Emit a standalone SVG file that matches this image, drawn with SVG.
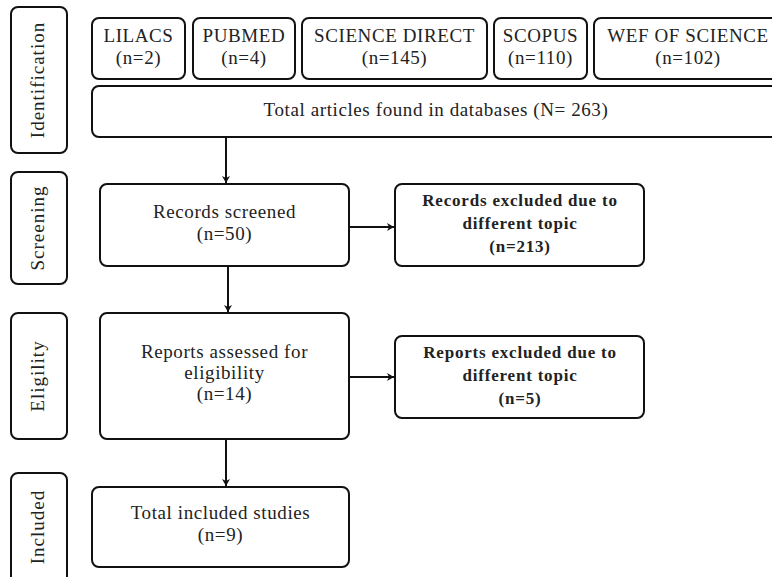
<svg xmlns="http://www.w3.org/2000/svg" width="772" height="577" viewBox="0 0 772 577">
<defs>
<style>
.box{fill:#fff;stroke:#111;stroke-width:2}
.t{font-family:"Liberation Serif","Times New Roman",serif;font-size:19px;fill:#222;text-anchor:middle;letter-spacing:0.6px}
.b{font-weight:bold;font-size:17px;letter-spacing:0.8px}
.v{font-size:19px;letter-spacing:1px}
.c{fill:none;stroke:#111;stroke-width:2}
</style>
<marker id="ah" markerWidth="10" markerHeight="10" refX="7" refY="5" orient="auto" markerUnits="userSpaceOnUse">
<path d="M0,1 L7,5 L0,9 L2,5 Z" fill="#111"/>
</marker>
</defs>
<rect width="772" height="577" fill="#fff"/>

<g id="stage-identification">
<rect class="box" x="11" y="7" width="56" height="146" rx="7"/>
<text class="t v" transform="translate(44,80) rotate(-90)">Identification</text>
</g>
<g id="stage-screening">
<rect class="box" x="11" y="172" width="56" height="112" rx="7"/>
<text class="t v" transform="translate(44,228) rotate(-90)">Screening</text>
</g>
<g id="stage-eligibility">
<rect class="box" x="11" y="313" width="56" height="126" rx="7"/>
<text class="t v" transform="translate(44,376) rotate(-90)">Eligility</text>
</g>
<g id="stage-included">
<rect class="box" x="11" y="473" width="56" height="112" rx="7"/>
<text class="t v" transform="translate(44,527) rotate(-90)">Included</text>
</g>

<g id="lilacs">
<rect class="box" x="92" y="18" width="93" height="61" rx="7"/>
<text class="t" x="138.5" y="42">LILACS</text>
<text class="t" x="138.5" y="64">(n=2)</text>
</g>
<g id="pubmed">
<rect class="box" x="193" y="18" width="102" height="61" rx="7"/>
<text class="t" x="244" y="42">PUBMED</text>
<text class="t" x="244" y="64">(n=4)</text>
</g>
<g id="science-direct">
<rect class="box" x="302" y="18" width="185" height="61" rx="7"/>
<text class="t" x="394.5" y="42">SCIENCE DIRECT</text>
<text class="t" x="394.5" y="64">(n=145)</text>
</g>
<g id="scopus">
<rect class="box" x="494" y="18" width="93" height="61" rx="7"/>
<text class="t" x="540.5" y="42">SCOPUS</text>
<text class="t" x="540.5" y="64">(n=110)</text>
</g>
<g id="wef">
<rect class="box" x="594" y="18" width="188" height="61" rx="7"/>
<text class="t" x="688" y="42">WEF OF SCIENCE</text>
<text class="t" x="688" y="64">(n=102)</text>
</g>
<g id="total">
<rect class="box" x="92" y="86" width="690" height="51" rx="7"/>
<text class="t" x="436" y="116">Total articles found in databases (N= 263)</text>
</g>

<g id="records-screened">
<rect class="box" x="100" y="184" width="249" height="82" rx="7"/>
<text class="t" x="224.5" y="218">Records screened</text>
<text class="t" x="224.5" y="240">(n=50)</text>
</g>
<g id="records-excluded">
<rect class="box" x="395" y="184" width="249" height="82" rx="7"/>
<text class="t b" x="520" y="206">Records excluded due to</text>
<text class="t b" x="520" y="229">different topic</text>
<text class="t b" x="520" y="252">(n=213)</text>
</g>
<g id="reports-assessed">
<rect class="box" x="100" y="313" width="249" height="126" rx="7"/>
<text class="t" x="224.5" y="358">Reports assessed for</text>
<text class="t" x="224.5" y="379">eligibility</text>
<text class="t" x="224.5" y="400">(n=14)</text>
</g>
<g id="reports-excluded">
<rect class="box" x="395" y="336" width="249" height="82" rx="7"/>
<text class="t b" x="520" y="358">Reports excluded due to</text>
<text class="t b" x="520" y="381">different topic</text>
<text class="t b" x="520" y="404">(n=5)</text>
</g>
<g id="total-included">
<rect class="box" x="92" y="487" width="257" height="80" rx="7"/>
<text class="t" x="220.5" y="519">Total included studies</text>
<text class="t" x="220.5" y="541">(n=9)</text>
</g>

<g id="connectors">
<line class="c" x1="226" y1="137" x2="226" y2="183" marker-end="url(#ah)"/>
<line class="c" x1="349" y1="227" x2="394" y2="227" marker-end="url(#ah)"/>
<line class="c" x1="228" y1="266" x2="228" y2="312" marker-end="url(#ah)"/>
<line class="c" x1="349" y1="377" x2="394" y2="377" marker-end="url(#ah)"/>
<line class="c" x1="226" y1="439" x2="226" y2="486" marker-end="url(#ah)"/>
</g>
</svg>
